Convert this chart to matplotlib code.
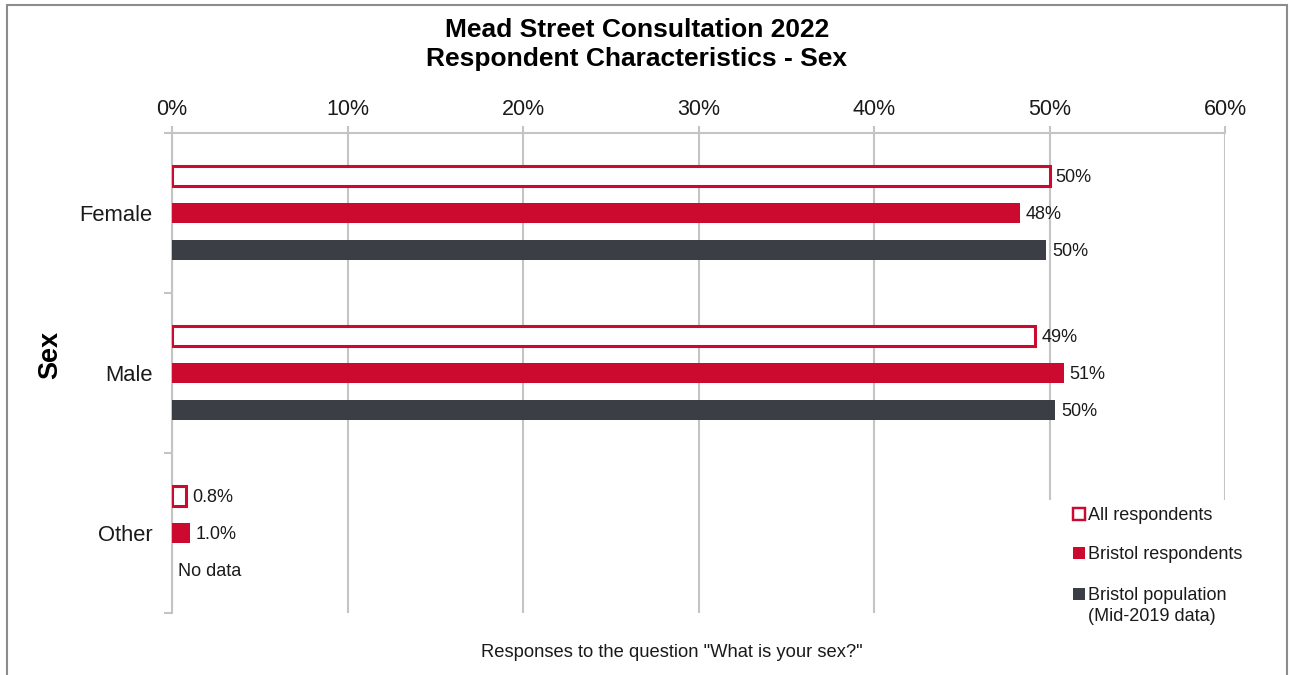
import numpy as np
import matplotlib
matplotlib.use("Agg")
import matplotlib.pyplot as plt
from matplotlib.patches import Rectangle

plt.rcParams['font.family'] = ['Liberation Sans', 'DejaVu Sans']

categories = ["Female", "Male", "Other"]
series_names = ["All respondents", "Bristol respondents", "Bristol population\n(Mid-2019 data)"]
all_resp = [50.0, 49.2, 0.8]
bristol_resp = [48.3, 50.8, 1.0]
bristol_pop = [49.8, 50.3, np.nan]
x_ticks = [0, 10, 20, 30, 40, 50, 60]

RED = "#CC0A2F"
DARK = "#3B3F45"
GRID = "#C4C4C4"
TXT = "#1A1A1A"


def fmt(v):
    if np.isnan(v):
        return "No data"
    if v < 5:
        return f"{v:.1f}%"
    return f"{v:.0f}%"


W, H = 1292, 675
fig = plt.figure(figsize=(W / 100, H / 100), dpi=100)
ax = fig.add_axes([172 / W, 62 / H, 1053 / W, 480 / H])

y = np.arange(len(categories))
offset = 0.231
h = 0.12
series = [all_resp, bristol_resp, bristol_pop]
styles = [
    dict(facecolor="white", edgecolor=RED, linewidth=2.2),
    dict(facecolor=RED, edgecolor=RED, linewidth=0),
    dict(facecolor=DARK, edgecolor=DARK, linewidth=0),
]

for i, (vals, st) in enumerate(zip(series, styles)):
    pos = y + (i - 1) * offset
    vals = np.array(vals, dtype=float)
    ax.barh(pos, np.nan_to_num(vals), height=h, zorder=3, **st)
    for p, v in zip(pos, vals):
        xv = 0 if np.isnan(v) else v
        ax.text(xv + 0.35, p + 0.012, fmt(v), va="center", ha="left",
                fontsize=13, color=TXT, zorder=4)

ax.set_xlim(0, 60)
ax.set_ylim(2.5, -0.5)
ax.xaxis.tick_top()
ax.set_xticks(x_ticks)
ax.set_xticklabels([f"{t}%" for t in x_ticks])
ax.tick_params(axis="x", direction="out", length=5, color=GRID, width=1.5,
               pad=4.3, labelsize=15.5, labelcolor=TXT)
ax.set_yticks(y)
ax.set_yticklabels(categories)
ax.set_yticks([-0.5, 0.5, 1.5, 2.5], minor=True)
ax.tick_params(axis="y", which="major", length=0, pad=14, labelsize=15.8, labelcolor=TXT)
ax.tick_params(axis="y", which="minor", length=6, color=GRID, width=1.5, direction="out")
ax.grid(axis="x", color=GRID, linewidth=1.5, zorder=0)
for side in ["right", "bottom"]:
    ax.spines[side].set_visible(False)
ax.spines["top"].set_color(GRID)
ax.spines["top"].set_linewidth(1.5)
ax.spines["left"].set_color(GRID)
ax.spines["left"].set_linewidth(1.5)


# legend drawn by hand so the marker sits on the first line of a wrapped label
def axfrac(px, py):
    return (px - 172) / 1053, (613 - py) / 480


bx0, by0 = axfrac(1046, 632)
bx1, by1 = axfrac(1262, 500)
ax.add_patch(Rectangle((bx0, by0), bx1 - bx0, by1 - by0, transform=ax.transAxes,
                       facecolor="white", edgecolor="none", zorder=5, clip_on=False))
sq = 12
leg_rows = [514, 553, 594]
for (st, name, py) in zip(styles, series_names, leg_rows):
    lw = 2.2 if st["facecolor"] == "white" else 0
    x0, y0 = axfrac(1073, py + sq / 2)
    ax.add_patch(Rectangle((x0, y0), sq / 1053, sq / 480, transform=ax.transAxes,
                           facecolor=st["facecolor"], edgecolor=st["edgecolor"],
                           linewidth=lw * 0.8, zorder=6, clip_on=False))
    tx, ty = axfrac(1088, py - 7)
    ax.text(tx, ty, name, transform=ax.transAxes, ha="left", va="top",
            fontsize=13, color=TXT, linespacing=1.3, zorder=6, clip_on=False)

fig.text(0.493, (H - 44.5) / H, "Mead Street Consultation 2022\nRespondent Characteristics - Sex",
         ha="center", va="center", fontsize=19, fontweight="bold",
         linespacing=1.25, color="black")
fig.text(50 / W, 0.474, "Sex", rotation=90, ha="center", va="center",
         fontsize=19.5, fontweight="bold", color="black")
fig.text(0.52, 0.034, 'Responses to the question "What is your sex?"',
         ha="center", va="center", fontsize=13.2, color=TXT)

# outer chart frame
fig.patches.append(Rectangle((7 / W, -0.05), 1280 / W, 0.05 + 670 / H,
                             transform=fig.transFigure, fill=False,
                             edgecolor="#8C8C8C", linewidth=1.5))

fig.savefig("out.png", dpi=100)
